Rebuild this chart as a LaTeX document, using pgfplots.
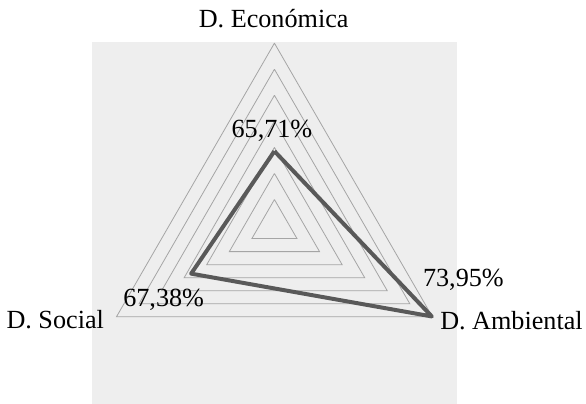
\documentclass[border=0pt]{standalone}
\usepackage{fontspec}
\setmainfont{Liberation Serif}
\usepackage{pgfplots}
\usepackage{pgfplotstable}
\pgfplotsset{compat=1.18}
\definecolor{fondo}{RGB}{238,238,238}
\definecolor{rejilla}{RGB}{165,165,165}
\definecolor{serie}{RGB}{89,89,89}

% valores por dimension (eje radial de 60% a 74%)
\pgfplotstableread{
angulo valor
90  65.71
330 73.95
210 67.38
90  65.71
}\datos

\begin{document}
\begin{tikzpicture}[font=\fontsize{26.3bp}{31bp}\selectfont]
\begin{axis}[
    x=13.093bp, y=13.093bp,
    xmin=-21.065, xmax=23.69,
    ymin=-13.694, ymax=17.315,
    hide axis, clip=false,
    every node/.append style={inner sep=0pt},
]
    \fill[fondo] (axis cs:-14.03,-13.694) rectangle (axis cs:13.99,14.107);
    \path (axis cs:-21.065,-13.694) rectangle (axis cs:23.69,17.315);

    % rejilla triangular: 62%, 64%, ..., 74%
    \pgfplotsinvokeforeach{2,4,...,14}{
        \addplot[rejilla, line width=0.8bp, mark=none, data cs=polar]
            coordinates {(90,#1) (210,#1) (330,#1) (90,#1)};
    }

    \addplot[serie, line width=4bp, line join=round, mark=none, data cs=polar]
        table[x=angulo, y expr=\thisrow{valor}-60] {\datos};

    \node[anchor=base] at (axis cs:-0.06,15.23) {D. Económica};
    \node[anchor=base west] at (axis cs:12.46,-7.97) {D. Ambiental};
    \node[anchor=base east] at (axis cs:-12.82,-7.9) {D. Social};

    \node[anchor=base] at (axis cs:-0.19,6.75) {65,71\%};
    \node[anchor=base west] at (axis cs:11.14,-4.66) {73,95\%};
    \node[anchor=base west] at (axis cs:-11.87,-6.25) {67,38\%};
\end{axis}
\end{tikzpicture}
\end{document}
